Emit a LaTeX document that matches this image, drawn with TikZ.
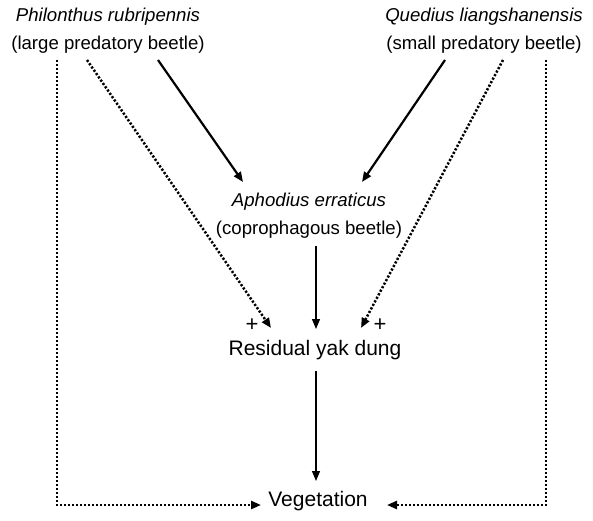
\documentclass[tikz,border=0pt]{standalone}
\usepackage{fontspec}
\setmainfont{Liberation Sans}
\usetikzlibrary{arrows.meta}
\tikzset{
  lbl/.style={inner sep=0pt, align=center, font=\fontsize{18.6}{28}\selectfont},
  biglbl/.style={inner sep=0pt, font=\fontsize{21}{24}\selectfont},
  plus/.style={inner sep=0pt, font=\fontsize{22}{24}\selectfont},
  tip/.style={-{Triangle[length=10pt,width=8pt]}},
  solidarr/.style={tip, line width=2.2pt},
  thinarr/.style={tip, line width=1.3pt},
  dotarr/.style={tip, line width=2.5pt, dash pattern=on 2.2pt off 1.8pt}
}
\begin{document}
\begin{tikzpicture}[x=1pt,y=-1pt]
\useasboundingbox (0,0) rectangle (593,520);
% labels
\node[lbl] (phil) at (108,31) {\itshape Philonthus rubripennis\\(large predatory beetle)};
\node[lbl] (qued) at (484,31) {\itshape Quedius liangshanensis\\(small predatory beetle)};
\node[lbl] (aph) at (309,216) {\itshape Aphodius erraticus\\(coprophagous beetle)};
\node[biglbl] (dung) at (315,350) {Residual yak dung};
\node[biglbl] (veg) at (318,501) {Vegetation};
\node[plus] (pl) at (252,325) {+};
\node[plus] (pr) at (380,325) {+};
% anchor points
\coordinate (pA) at (57,60);
\coordinate (pB) at (87,60);
\coordinate (pC) at (158,60);
\coordinate (qC) at (445,60);
\coordinate (qB) at (503,60);
\coordinate (qA) at (546,60);
\coordinate (aL) at (243,182);
\coordinate (aR) at (362,182);
\coordinate (aB) at (316,246);
\coordinate (dL) at (271,328);
\coordinate (dM) at (316,329);
\coordinate (dR) at (361,328);
\coordinate (dB) at (316,371);
\coordinate (vT) at (316,481);
\coordinate (vL) at (261,505);
\coordinate (vR) at (387,505);
\coordinate (cL) at (57,505);
\coordinate (cR) at (546,505);
% connectors
\draw[solidarr] (pC) -- (aL);
\draw[solidarr] (qC) -- (aR);
\draw[thinarr] (aB) -- (dM);
\draw[thinarr] (dB) -- (vT);
\draw[dotarr] (pB) -- (dL);
\draw[dotarr] (qB) -- (dR);
\draw[dotarr] (pA) -- (cL) -- (vL);
\draw[dotarr] (qA) -- (cR) -- (vR);
\end{tikzpicture}
\end{document}
